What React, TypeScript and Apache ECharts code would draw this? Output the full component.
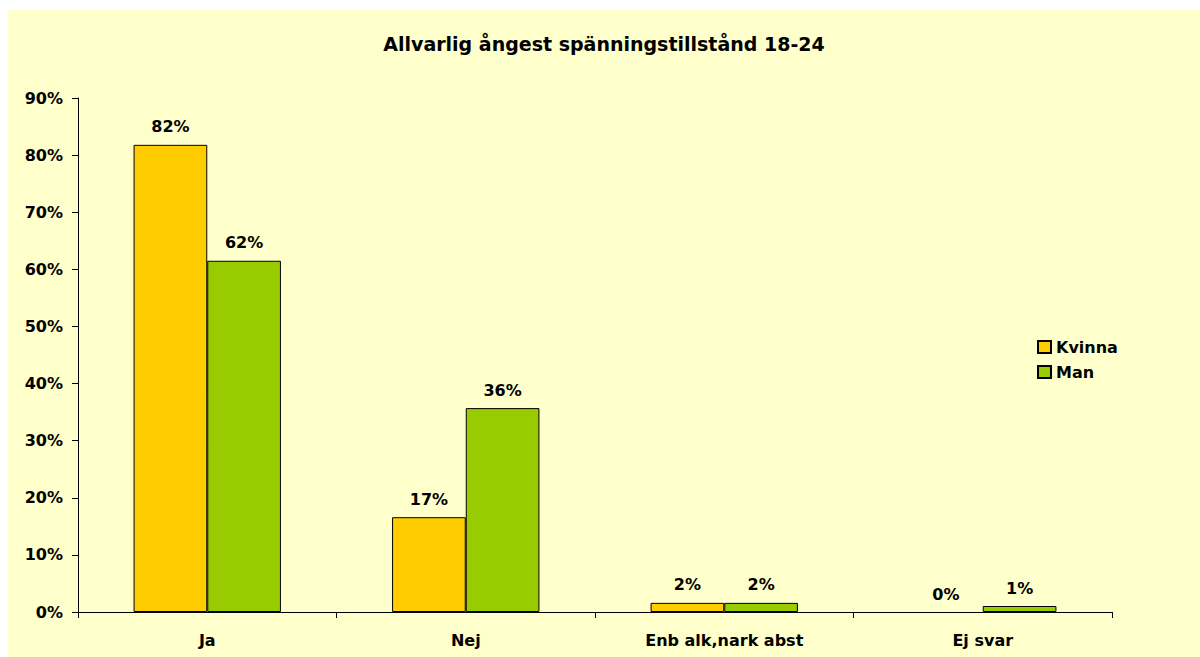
import React, { useEffect, useRef } from "react";
import * as echarts from "echarts";

const categories = ["Ja", "Nej", "Enb alk,nark abst", "Ej svar"];
const kvinna = [81.8, 16.6, 1.6, 0];
const man = [61.5, 35.7, 1.6, 1.05];
const yTicks = [0, 10, 20, 30, 40, 50, 60, 70, 80, 90];
const seriesNames = ["Kvinna", "Man"];
const titleText = "Allvarlig ångest spänningstillstånd 18-24";

const FONT = "DejaVu Sans";

const toItems = (vals: number[]) =>
  vals.map((v) => (v === 0 ? { value: v, itemStyle: { borderWidth: 0 } } : v));

export default function App() {
  const ref = useRef<HTMLDivElement>(null);
  useEffect(() => {
    if (!ref.current) return;
    const chart = echarts.init(ref.current, null, { renderer: "svg" });
    const labelOpt = {
      show: true,
      position: "top" as const,
      distance: 10,
      color: "#000",
      fontFamily: FONT,
      fontWeight: "bold" as const,
      fontSize: 16,
      formatter: (p: any) => Math.round(p.value) + "%",
    };
    chart.setOption({
      animation: false,
      backgroundColor: "#FFFFCC",
      textStyle: { fontFamily: FONT },
      title: {
        text: titleText,
        left: "center",
        top: 19,
        textStyle: { fontFamily: FONT, fontWeight: "bold", fontSize: 19, color: "#000" },
      },
      legend: {
        orient: "vertical",
        left: 1024,
        top: 324,
        itemWidth: 13,
        itemHeight: 12,
        itemGap: 9,
        icon: "rect",
        textStyle: { fontFamily: FONT, fontWeight: "bold", fontSize: 16, color: "#000" },
        data: seriesNames,
      },
      grid: { left: 70, right: 88, top: 88, bottom: 45, containLabel: false },
      xAxis: {
        type: "category",
        data: categories,
        axisLine: { lineStyle: { color: "#000", width: 1 } },
        axisTick: { show: true, length: 6, lineStyle: { color: "#000" } },
        axisLabel: { margin: 20, color: "#000", fontFamily: FONT, fontWeight: "bold", fontSize: 16 },
      },
      yAxis: {
        type: "value",
        min: yTicks[0],
        max: yTicks[yTicks.length - 1],
        interval: 10,
        splitLine: { show: false },
        axisLine: { show: true, lineStyle: { color: "#000", width: 1 } },
        axisTick: { show: true, length: 6, lineStyle: { color: "#000" } },
        axisLabel: {
          margin: 15,
          color: "#000",
          fontFamily: FONT,
          fontWeight: "bold",
          fontSize: 16,
          formatter: (v: number) => v + "%",
        },
      },
      series: [
        {
          name: seriesNames[0],
          type: "bar",
          data: toItems(kvinna),
          barGap: "0%",
          barCategoryGap: "43%",
          itemStyle: { color: "#FFCC00", borderColor: "#000", borderWidth: 1 },
          label: labelOpt,
        },
        {
          name: seriesNames[1],
          type: "bar",
          data: toItems(man),
          barGap: "0%",
          barCategoryGap: "43%",
          itemStyle: { color: "#99CC00", borderColor: "#000", borderWidth: 1 },
          label: labelOpt,
        },
      ],
    });
    return () => chart.dispose();
  }, []);
  return (
    <div
      ref={ref}
      style={{ position: "absolute", left: 8, top: 10, width: 1192, height: 647 }}
    />
  );
}
